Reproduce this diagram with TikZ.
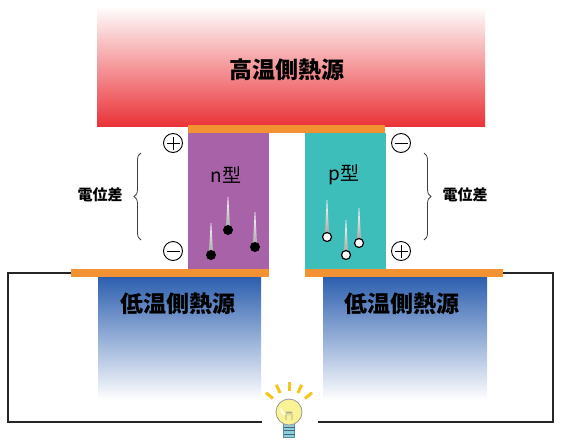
\documentclass[tikz,border=0pt]{standalone}
\usepackage{fontspec}
\setmainfont{Noto Sans}
\newfontfamily\jp{Noto Sans CJK JP}
\usetikzlibrary{calc,decorations.pathreplacing}

\definecolor{hotred}{RGB}{234,51,56}
\definecolor{coldblue}{RGB}{45,95,175}
\definecolor{ntype}{RGB}{168,99,168}
\definecolor{ptype}{RGB}{62,190,186}
\definecolor{electrode}{RGB}{243,146,50}
\definecolor{glass}{RGB}{250,243,150}
\definecolor{bulbbase}{RGB}{140,205,225}
\definecolor{ray}{RGB}{246,197,24}

\tikzset{
  block/.style={rectangle, inner sep=0pt, outer sep=0pt, anchor=north west},
  hotsrc/.style={block, shade, top color=white, middle color=hotred!42!white, bottom color=hotred},
  coldsrc/.style={block, shade, top color=coldblue, middle color=coldblue!22!white, bottom color=white},
  bar/.style={block, fill=electrode},
  semi/.style={block},
  biglabel/.style={font=\jp\bfseries\fontsize{23}{23}\selectfont},
  typelabel/.style={font=\jp\fontsize{19}{19}\selectfont},
  potlabel/.style={font=\jp\bfseries\fontsize{15}{15}\selectfont},
  sign/.style={circle, draw, line width=0.9pt, minimum size=19pt, inner sep=0pt},
  signbar/.style={line width=0.9pt},
  wire/.style={line width=1.2pt, black!85},
  bracket/.style={decorate, decoration={brace, amplitude=7pt}, line width=0.8pt, black!75},
  electron/.style={circle, fill=black, minimum size=10pt, inner sep=0pt},
  hole/.style={circle, fill=white, draw=black, line width=1.2pt, minimum size=9pt, inner sep=0pt},
  trail/.style={top color=white, bottom color=gray!75},
}

\newcommand{\trailto}[2]{% #1 = carrier node, #2 = length of the trail
  \shade[trail] ($(#1)+(-2.2,0)$) -- ($(#1)+(-0.3,-#2)$) -- ($(#1)+(0.3,-#2)$) -- ($(#1)+(2.2,0)$) -- cycle;}

\begin{document}
\begin{tikzpicture}[x=1pt,y=-1pt]
\useasboundingbox (0,0) rectangle (561,439);

% heat sources
\node[hotsrc, minimum width=388pt, minimum height=120pt] (hot) at (97,6) {};
\node[biglabel] (hotlbl) at (287,70) {高温側熱源};

\node[coldsrc, minimum width=163pt, minimum height=123pt] (coldL) at (98,277) {};
\node[coldsrc, minimum width=164pt, minimum height=123pt] (coldR) at (323,277) {};
\node[biglabel] (coldLlbl) at (178,304) {低温側熱源};
\node[biglabel] (coldRlbl) at (402,304) {低温側熱源};

% semiconductor legs
\node[semi, fill=ntype, minimum width=81pt, minimum height=136pt] (nleg) at (188,133) {};
\node[semi, fill=ptype, minimum width=81pt, minimum height=136pt] (pleg) at (305,133) {};
\node[typelabel] (nlbl) at (226,175) {n型};
\node[typelabel] (plbl) at (344,175) {p型};

% electrodes
\node[bar, minimum width=197pt, minimum height=8pt] (barT) at (188,125) {};
\node[bar, minimum width=198pt, minimum height=8pt] (barL) at (71,269) {};
\node[bar, minimum width=198pt, minimum height=8pt] (barR) at (305,269) {};

% carriers with their trails
\coordinate (e1) at (211,255);
\coordinate (e2) at (228,230);
\coordinate (e3) at (255,247);
\coordinate (h1) at (327,237);
\coordinate (h2) at (346,255);
\coordinate (h3) at (359,243);
\trailto{e1}{32}
\trailto{e2}{33}
\trailto{e3}{35}
\trailto{h1}{37}
\trailto{h2}{35}
\trailto{h3}{35}
\node[electron] (n1) at (e1) {};
\node[electron] (n2) at (e2) {};
\node[electron] (n3) at (e3) {};
\node[hole] (p1) at (h1) {};
\node[hole] (p2) at (h2) {};
\node[hole] (p3) at (h3) {};

% polarity signs
\node[sign] (sLT) at (173,143) {};
\node[sign] (sLB) at (173,251) {};
\node[sign] (sRT) at (401,143) {};
\node[sign] (sRB) at (401,251) {};
\foreach \s in {sLT,sLB,sRT,sRB}
  \draw[signbar] ($(\s)+(-6.5,0)$) -- ($(\s)+(6.5,0)$);
\foreach \s in {sLT,sRB}
  \draw[signbar] ($(\s)+(0,-6.5)$) -- ($(\s)+(0,6.5)$);

% potential difference
\coordinate (bLb) at (141,240);
\coordinate (bLt) at (141,153);
\coordinate (bRt) at (424,153);
\coordinate (bRb) at (424,240);
\draw[bracket] (bLb) -- (bLt);
\draw[bracket] (bRt) -- (bRb);
\node[potlabel] (potL) at (100,195) {電位差};
\node[potlabel] (potR) at (465,195) {電位差};

% light bulb
\coordinate (bulb) at (289,412);
\foreach \a in {-40,-65,-90,-115,-140}
  \draw[ray, line width=3pt] ($(bulb)+(\a:21)$) -- ($(bulb)+(\a:30)$);
\node[rectangle, fill=bulbbase, draw=bulbbase!70!black, line width=0.5pt,
      minimum width=11pt, minimum height=14pt, inner sep=0pt, anchor=north] (base) at ($(bulb)+(0,11)$) {};
\foreach \d in {15,18.5,22}
  \draw[bulbbase!50!black, line width=0.5pt] ($(bulb)+(-5.5,\d)$) -- ($(bulb)+(5.5,\d)$);
\node[circle, fill=glass, draw=gray!80, line width=0.8pt, minimum size=26pt, inner sep=0pt] (glassbulb) at (bulb) {};
\draw[gray!80, line width=0.6pt]
  ($(bulb)+(-3,8)$) -- ($(bulb)+(-3,2)$) .. controls ($(bulb)+(-3,-1)$) and ($(bulb)+(-1,-1)$) .. ($(bulb)+(-1,2)$)
  .. controls ($(bulb)+(-1,-1)$) and ($(bulb)+(1,-1)$) .. ($(bulb)+(1,2)$)
  .. controls ($(bulb)+(1,-1)$) and ($(bulb)+(3,-1)$) .. ($(bulb)+(3,2)$) -- ($(bulb)+(3,8)$);
\draw[white, line width=1.5pt, line cap=round] ($(bulb)+(-8,-3)$) arc[start angle=190, end angle=240, radius=8pt];

% external circuit
\coordinate (wL1) at (8,273);
\coordinate (wL2) at (8,422);
\coordinate (wLend) at ($(bulb)+(-27,10)$);
\coordinate (wR1) at (553,273);
\coordinate (wR2) at (553,422);
\coordinate (wRend) at ($(bulb)+(29,10)$);
\draw[wire] (barL.west) -- (wL1) -- (wL2) -- (wLend);
\draw[wire] (barR.east) -- (wR1) -- (wR2) -- (wRend);
\end{tikzpicture}
\end{document}
